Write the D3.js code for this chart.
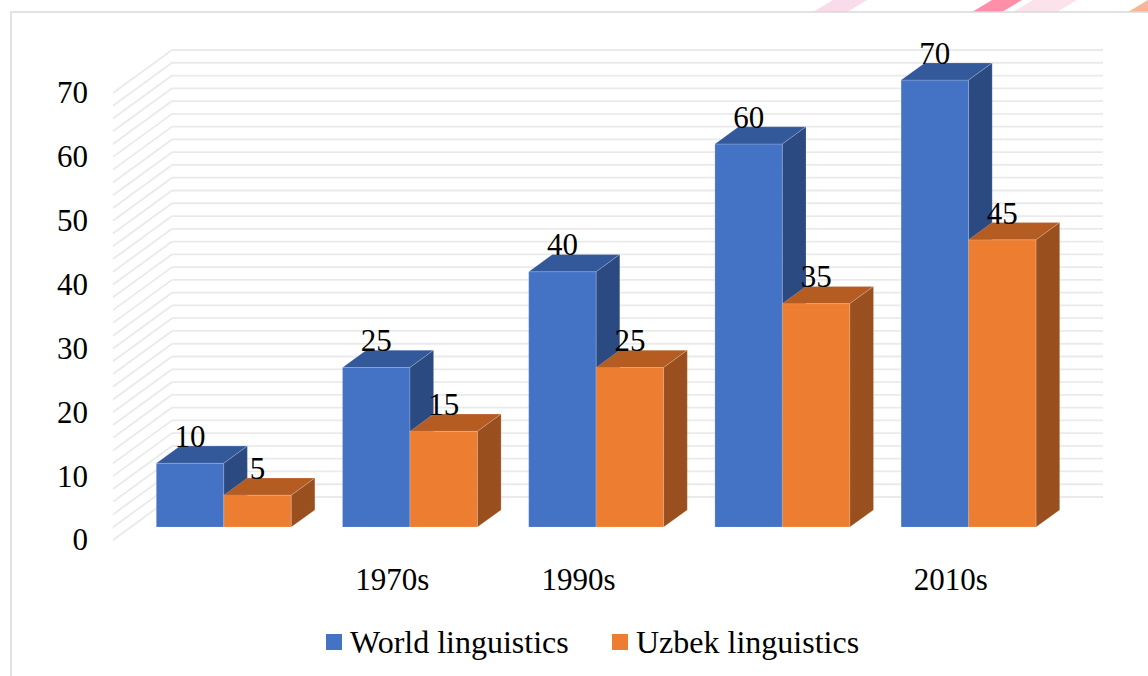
<!DOCTYPE html>
<html>
<head>
<meta charset="utf-8">
<script src="https://cdn.jsdelivr.net/npm/d3@7"></script>
<style>
  body { margin: 0; background: #fff; }
  svg { display: block; font-family: "Liberation Serif", "Times New Roman", serif; }
</style>
</head>
<body>
<svg id="chart" width="1148" height="676"></svg>
<script>
// chart data
const categories = ['', '1970s', '1990s', '', '2010s'];
const seriesNames = ['World linguistics', 'Uzbek linguistics'];
const worldValues = [10, 25, 40, 60, 70];
const uzbekValues = [5, 15, 25, 35, 45];
const yTicks = [0, 10, 20, 30, 40, 50, 60, 70];
const gridStep = 2;

const seriesColors = [
  { front: '#4472c4', top: '#34599b', side: '#2b4a81' },
  { front: '#ed7d31', top: '#b45c22', side: '#9a4f1e' }
];
const fontFamily = '"Liberation Serif", "Times New Roman", serif';

const svg = d3.select('#chart');

// page decoration at the top
const stripes = [
  { x: 813, w: 34, c: '#f9dcea' },
  { x: 972, w: 30, c: '#ff8ea8' },
  { x: 1013, w: 44, c: '#fce2ea' },
  { x: 1128, w: 40, c: '#f8b597' }
];
svg.selectAll('.stripe').data(stripes).enter().append('polygon')
  .attr('points', d => [[d.x, 12], [d.x + d.w, 12], [d.x + d.w + 20, 0], [d.x + 20, 0]].join(' '))
  .attr('fill', d => d.c);

// chart box
svg.append('rect')
  .attr('x', 11).attr('y', 12).attr('width', 1160).attr('height', 700)
  .attr('fill', '#fff').attr('stroke', '#d9d9d9').attr('stroke-width', 1.5);

// 3d geometry: front plane origin, depth vector
const originX = 113;
const plotW = 931;
const depthX = 59, depthY = -43;
const barFront = 0.3, barBack = 0.7;

const x0 = d3.scaleBand().domain(categories.map((c, i) => i)).range([0, plotW]);
const x1 = d3.scaleBand().domain(seriesNames)
  .range([x0.bandwidth() * 0.1375, x0.bandwidth() * 0.8625]);
const y = d3.scaleLinear().domain([0, 70]).range([540, 93]);

function proj (u, v, d) {
  return [originX + u + depthX * d, y(v) + depthY * d];
}

// gridlines on back wall and side wall
const gridValues = d3.range(0, 70 + gridStep, gridStep);
const grid = svg.append('g').attr('stroke', '#eaeaea').attr('stroke-width', 1.8).attr('fill', 'none');
grid.selectAll('.back').data(gridValues).enter().append('line')
  .attr('x1', v => proj(0, v, 1)[0]).attr('y1', v => proj(0, v, 1)[1])
  .attr('x2', v => proj(plotW, v, 1)[0]).attr('y2', v => proj(plotW, v, 1)[1]);
grid.selectAll('.side').data(gridValues).enter().append('line')
  .attr('x1', v => proj(0, v, 0)[0]).attr('y1', v => proj(0, v, 0)[1])
  .attr('x2', v => proj(0, v, 1)[0]).attr('y2', v => proj(0, v, 1)[1]);

// y axis
const yAxis = svg.append('g')
  .attr('transform', 'translate(' + 88 + ',0)')
  .call(d3.axisLeft(y).tickValues(yTicks).tickSize(0).tickPadding(0));
yAxis.select('.domain').remove();
yAxis.attr('font-family', fontFamily).attr('font-size', 31);
yAxis.selectAll('text').attr('fill', '#000');

// category axis
const xAxis = svg.append('g')
  .attr('transform', 'translate(' + originX + ',' + y(0) + ')')
  .call(d3.axisBottom(x0).tickSize(0).tickPadding(28).tickFormat(i => categories[i]));
xAxis.select('.domain').remove();
xAxis.attr('font-family', fontFamily).attr('font-size', 31);
xAxis.selectAll('text').attr('fill', '#000');

// bars
const bars = [];
categories.forEach((c, i) => {
  [worldValues, uzbekValues].forEach((vals, s) => {
    bars.push({ cat: i, s: s, value: vals[i] });
  });
});

const pts = arr => arr.map(p => p.join(',')).join(' ');
const barG = svg.append('g');
bars.forEach(b => {
  const u0 = x0(b.cat) + x1(seriesNames[b.s]);
  const u1 = u0 + x1.bandwidth();
  const col = seriesColors[b.s];
  const g = barG.append('g').attr('stroke', 'rgba(255,255,255,0.18)').attr('stroke-width', 1);
  // front face
  g.append('polygon')
    .attr('points', pts([proj(u0, 0, barFront), proj(u1, 0, barFront), proj(u1, b.value, barFront), proj(u0, b.value, barFront)]))
    .attr('fill', col.front);
  // top face
  g.append('polygon')
    .attr('points', pts([proj(u0, b.value, barFront), proj(u1, b.value, barFront), proj(u1, b.value, barBack), proj(u0, b.value, barBack)]))
    .attr('fill', col.top);
  // side face
  g.append('polygon')
    .attr('points', pts([proj(u1, 0, barFront), proj(u1, 0, barBack), proj(u1, b.value, barBack), proj(u1, b.value, barFront)]))
    .attr('fill', col.side);
});

// data labels
svg.append('g').selectAll('text').data(bars).enter().append('text')
  .attr('x', d => proj(x0(d.cat) + x1(seriesNames[d.s]) + x1.bandwidth() / 2, d.value, barFront)[0])
  .attr('y', d => proj(0, d.value, barBack)[1] + 1)
  .attr('text-anchor', 'middle')
  .attr('font-family', fontFamily)
  .attr('font-size', 31)
  .attr('fill', '#000')
  .text(d => d.value);

// legend
const legend = svg.append('g');
const legendX = [326, 612];
seriesNames.forEach((name, s) => {
  legend.append('rect')
    .attr('x', legendX[s]).attr('y', 634).attr('width', 16).attr('height', 16)
    .attr('fill', seriesColors[s].front);
  legend.append('text')
    .attr('x', legendX[s] + 24).attr('y', 653)
    .attr('font-family', fontFamily)
    .attr('font-size', 32).attr('fill', '#000')
    .text(name);
});
</script>
</body>
</html>
